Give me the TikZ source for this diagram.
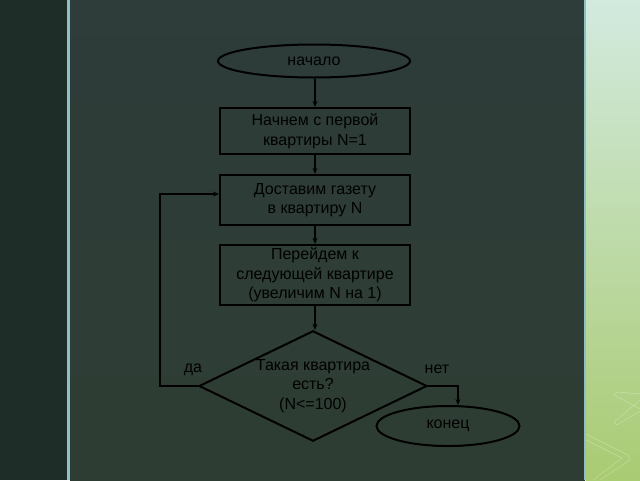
\documentclass[tikz,border=0pt]{standalone}
\usepackage{fontspec}
\setmainfont{Liberation Sans}
\usetikzlibrary{shapes.geometric,arrows.meta}

\definecolor{slidedark}{HTML}{1F2D29}
\definecolor{slidetop}{HTML}{2E3C3A}
\definecolor{slidebot}{HTML}{2E3D33}
\definecolor{slideline}{HTML}{8FC0C2}
\definecolor{greentop}{HTML}{D2EADF}
\definecolor{greenbot}{HTML}{A9CB72}

\begin{document}
\begin{tikzpicture}[x=1pt,y=-1pt,
  every node/.style={font=\fontsize{16}{19.5}\selectfont, text=black},
  term/.style={ellipse, draw=black, line width=2pt, inner sep=0pt},
  block/.style={rectangle, draw=black, line width=2.2pt, minimum width=190pt, align=center, inner sep=0pt},
  check/.style={diamond, draw=black, line width=2pt, aspect=2, inner sep=0pt, minimum width=228pt, minimum height=110pt, align=center},
  flow/.style={draw=black, line width=1.6pt, -{Stealth[length=6pt,width=5pt]}}]
% slide background
\useasboundingbox (0,0) rectangle (640,480);
\fill[slidedark] (0,0) rectangle (67,480);
\shade[top color=slidetop, bottom color=slidebot] (70,0) rectangle (585,480);
\fill[slideline] (67,0) rectangle (70,480);
\shade[top color=greentop, bottom color=greenbot] (586,0) rectangle (640,480);
\fill[slideline] (584,0) rectangle (586,480);
\draw[white, opacity=0.3, line width=0.5pt] (640,394) -- (617,392) -- (614,395) -- (640,409);
\draw[white, opacity=0.3, line width=0.5pt] (640,400) -- (614,422) -- (617,425) -- (640,411);
\draw[white, opacity=0.3, line width=0.5pt] (586,434) -- (628,455) -- (630,460) -- (600,480);
\draw[white, opacity=0.3, line width=0.5pt] (586,440) -- (622,458) -- (593,480);

% flowchart nodes
\node[term, minimum width=192pt, minimum height=33pt] (start) at (314,61) {начало};
\node[block, minimum height=46pt] (b1) at (315,131) {Начнем с первой\\квартиры N=1};
\node[block, minimum height=50pt] (b2) at (315,200) {Доставим газету\\в квартиру N};
\node[block, minimum height=60pt] (b3) at (315,275) {Перейдем к\\следующей квартире\\(увеличим N на 1)};
\node[check] (cond) at (313,386) {Такая квартира\\есть?\\(N<=100)};
\node[term, minimum width=143pt, minimum height=40pt] (finish) at (448,426) {конец};

% branch labels
\node (yes) at (193,370) {да};
\node (no) at (437,369) {нет};

% connectors
\draw[flow] (start.south -| b1.north) -- (b1.north);
\draw[flow] (b1) -- (b2);
\draw[flow] (b2) -- (b3);
\draw[flow] (b3) -- (b3.south |- cond.north);
\draw[flow] (cond.west) -- ++(-38,0) |- ([yshift=6pt]b2.west);
\draw[flow] (cond.east) -| ([xshift=10pt]finish.north);
\end{tikzpicture}
\end{document}
